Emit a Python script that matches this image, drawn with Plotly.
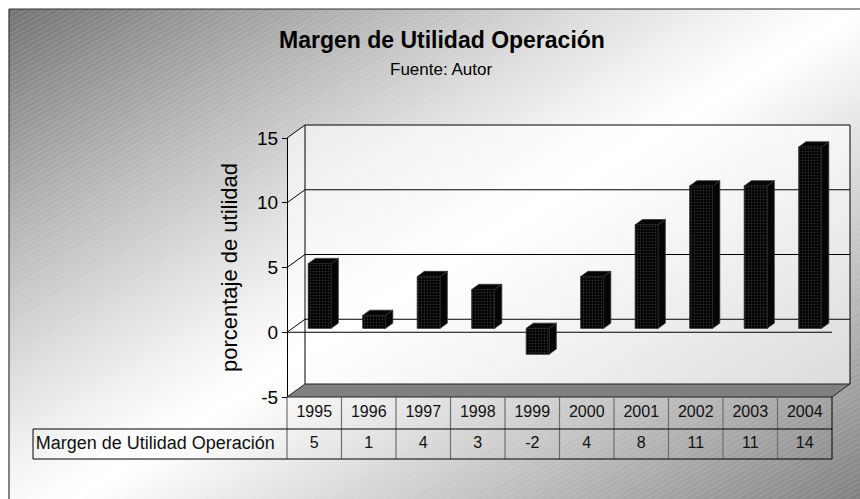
import plotly.graph_objects as go

# ---------------- data ----------------
years = ["1995", "1996", "1997", "1998", "1999", "2000", "2001", "2002", "2003", "2004"]
margin_pct = [5, 1, 4, 3, -2, 4, 8, 11, 11, 14]
series_name = "Margen de Utilidad Operación"
chart_title = "Margen de Utilidad Operación"
chart_subtitle = "Fuente: Autor"
y_title = "porcentaje de utilidad"
y_ticks = [-5, 0, 5, 10, 15]
y_min, y_max = -5, 15

# ---------------- geometry (pixel layout of the picture) ----------------
W, H = 860, 499
FONT = "Liberation Sans, Arial, sans-serif"
PX0 = 287.0    # pixel x of the front value axis (category -0.5)
PXC = 54.5     # pixels per category
PY0 = 397.0    # pixel y of value y_min on the front plane
PYU = 12.95    # pixels per value unit


def xd(px):
    return (px - PX0) / PXC - 0.5


def yd(py):
    return (PY0 - py) / PYU + y_min


XR = [xd(0), xd(W)]
YR = [yd(H), yd(0)]
DX = 18.0 / PXC    # depth offset (data units)
DY = 13.0 / PYU
N = len(years)
X_LEFT, X_RIGHT = -0.5, N - 0.5
BAR_W = 0.42
T_FRONT, T_BACK = 0.30, 0.70


def paper_x(x):
    return (x - XR[0]) / (XR[1] - XR[0])


def paper_y(y):
    return (y - YR[0]) / (YR[1] - YR[0])


fig = go.Figure()

# ---------------- background gradient (chart area) ----------------
BX0, BY0, BX1, BY1 = 9.0, 9.0, 860.0, 499.0
GW, GH = 851.0, 530.0


def clip_poly(poly, x0, y0, x1, y1):
    def clip(pts, inside, inter):
        out = []
        for k in range(len(pts)):
            cur, prev = pts[k], pts[k - 1]
            if inside(cur):
                if not inside(prev):
                    out.append(inter(prev, cur))
                out.append(cur)
            elif inside(prev):
                out.append(inter(prev, cur))
        return out

    def ix(xc):
        return lambda p, q: (xc, p[1] + (q[1] - p[1]) * (xc - p[0]) / (q[0] - p[0]))

    def iy(yc):
        return lambda p, q: (p[0] + (q[0] - p[0]) * (yc - p[1]) / (q[1] - p[1]), yc)

    pts = poly
    pts = clip(pts, lambda p: p[0] >= x0, ix(x0)) if pts else pts
    pts = clip(pts, lambda p: p[0] <= x1, ix(x1)) if pts else pts
    pts = clip(pts, lambda p: p[1] >= y0, iy(y0)) if pts else pts
    pts = clip(pts, lambda p: p[1] <= y1, iy(y1)) if pts else pts
    return pts


def gray(s):
    d = abs(1.0 - s)
    if s < 1:
        g = 255 - (255 - 115) * d ** 1.2
    else:
        g = 255 - (255 - 118) * d ** 1.1
    g = int(max(0, min(255, round(g))))
    return f"rgb({g},{g},{g})"


shapes = []
NB = 120
s_max = (BX1 - BX0) / GW + (BY1 - BY0) / GH
for k in range(NB):
    a = s_max * k / NB
    b = s_max * (k + 1) / NB + 0.002

    def pt(s, t):
        px = t
        py = BY0 + (s - (px - BX0) / GW) * GH
        return (px, py)
    big0, big1 = -2000.0, 3000.0
    poly = [pt(a, big0), pt(a, big1), pt(b, big1), pt(b, big0)]
    poly = clip_poly(poly, BX0, BY0, BX1, BY1)
    if len(poly) < 3:
        continue
    path = "M " + " L ".join(f"{px / W:.5f},{1 - py / H:.5f}" for px, py in poly) + " Z"
    shapes.append(dict(type="path", xref="paper", yref="paper", path=path,
                       fillcolor=gray((a + b) / 2), line=dict(width=0), layer="below"))

# chart-area border (top and left visible)
shapes.append(dict(type="line", xref="paper", yref="paper", x0=BX0 / W, x1=1.0,
                   y0=1 - BY0 / H, y1=1 - BY0 / H, line=dict(color="#333333", width=1.2)))
shapes.append(dict(type="line", xref="paper", yref="paper", x0=BX0 / W, x1=BX0 / W,
                   y0=0.0, y1=1 - BY0 / H, line=dict(color="#333333", width=1.2)))

# subtle diagonal stripes
K = 0.55
sx, sy = [], []
c = BY0
while c < BY1 + K * BX1:
    lo = max(BX0, (c - BY1) / K)
    hi = min(BX1, (c - BY0) / K)
    if hi > lo:
        sx += [xd(lo), xd(hi), None]
        sy += [yd(c - K * lo), yd(c - K * hi), None]
    c += 5.0
fig.add_trace(go.Scatter(x=sx, y=sy, mode="lines", line=dict(color="rgba(255,255,255,0.14)", width=1),
                         hoverinfo="skip", showlegend=False))

# ---------------- walls & floor ----------------
wall_x = [X_LEFT, X_LEFT, X_LEFT + DX, X_RIGHT + DX, X_RIGHT + DX, X_LEFT + DX, X_LEFT]
wall_y = [y_min, y_max, y_max + DY, y_max + DY, y_min + DY, y_min + DY, y_min]
fig.add_trace(go.Scatter(x=wall_x, y=wall_y, mode="lines", fill="toself",
                         fillcolor="rgba(255,255,255,0.6)", line=dict(width=0),
                         hoverinfo="skip", showlegend=False))

floor_x = [X_LEFT, X_LEFT + DX, X_RIGHT + DX, X_RIGHT, X_LEFT]
floor_y = [y_min, y_min + DY, y_min + DY, y_min, y_min]
fig.add_trace(go.Scatter(x=floor_x, y=floor_y, mode="lines", fill="toself",
                         fillcolor="#808080", line=dict(color="#222222", width=1),
                         hoverinfo="skip", showlegend=False))

# gridlines (diagonal on side wall + horizontal on back wall) and wall edges
gx, gy = [], []
for v in y_ticks[1:]:
    gx += [X_LEFT, X_LEFT + DX, X_RIGHT + DX, None]
    gy += [v, v + DY, v + DY, None]
gx += [X_LEFT + DX, X_LEFT + DX, None, X_RIGHT + DX, X_RIGHT + DX, None]
gy += [y_min + DY, y_max + DY, None, y_min + DY, y_max + DY, None]
# front zero line
gx += [X_LEFT, X_RIGHT, None]
gy += [0, 0, None]
fig.add_trace(go.Scatter(x=gx, y=gy, mode="lines", line=dict(color="#000000", width=1),
                         hoverinfo="skip", showlegend=False))

# ---------------- 3D bars ----------------
fx, fy = T_FRONT * DX, T_FRONT * DY
bx, by = T_BACK * DX, T_BACK * DY
for i, v in enumerate(margin_pct):
    lo, hi = min(0, v), max(0, v)
    xl, xr = i - BAR_W / 2, i + BAR_W / 2
    side_x = [xr + fx, xr + bx, xr + bx, xr + fx, xr + fx]
    side_y = [lo + fy, lo + by, hi + by, hi + fy, lo + fy]
    top_x = [xl + fx, xr + fx, xr + bx, xl + bx, xl + fx]
    top_y = [hi + fy, hi + fy, hi + by, hi + by, hi + fy]
    for px_, py_ in ((side_x, side_y), (top_x, top_y)):
        fig.add_trace(go.Scatter(x=px_, y=py_, mode="lines", fill="toself", fillcolor="#050505",
                                 line=dict(color="#333333", width=0.8), hoverinfo="skip",
                                 showlegend=False))
    fig.add_trace(go.Scatter(
        x=[xl + fx, xr + fx, xr + fx, xl + fx, xl + fx],
        y=[lo + fy, lo + fy, hi + fy, hi + fy, lo + fy],
        mode="lines", fill="toself", fillcolor="#000000",
        fillpattern=dict(shape=".", bgcolor="#000000", fgcolor="#2e2e2e", size=3, solidity=0.3),
        line=dict(color="#222222", width=0.8), name=series_name,
        hovertemplate=f"{years[i]}: {v}<extra></extra>", showlegend=False))

# ---------------- data table ----------------
ROW_TOP = y_min
ROW_MID = yd(429)
ROW_BOT = yd(459)
LABEL_X0 = xd(33)
tx, ty = [], []
for i in range(N + 1):
    xv = X_LEFT + i
    if 0 < i < N:
        tx += [xv, xv, None]
        ty += [ROW_TOP, ROW_BOT, None]
fig.add_trace(go.Scatter(x=tx, y=ty, mode="lines", line=dict(color="#6e6e6e", width=1.2),
                         hoverinfo="skip", showlegend=False))
fig.add_trace(go.Scatter(x=[X_LEFT, X_LEFT], y=[ROW_TOP, ROW_BOT], mode="lines",
                         line=dict(color="#6e6e6e", width=1.2), hoverinfo="skip", showlegend=False))
bxl = [LABEL_X0, X_RIGHT, None, LABEL_X0, X_RIGHT, None, LABEL_X0, LABEL_X0, None,
       X_RIGHT, X_RIGHT, None]
byl = [ROW_MID, ROW_MID, None, ROW_BOT, ROW_BOT, None, ROW_MID, ROW_BOT, None,
       ROW_TOP, ROW_BOT, None]
fig.add_trace(go.Scatter(x=bxl, y=byl, mode="lines", line=dict(color="#000000", width=1),
                         hoverinfo="skip", showlegend=False))

fig.add_trace(go.Scatter(x=list(range(N)), y=[(ROW_TOP + ROW_MID) / 2] * N, mode="text",
                         text=years, textfont=dict(family=FONT, size=16, color="#111111"),
                         textposition="middle center", hoverinfo="skip", showlegend=False))
fig.add_trace(go.Scatter(x=list(range(N)), y=[(ROW_MID + ROW_BOT) / 2] * N, mode="text",
                         text=[str(v) for v in margin_pct],
                         textfont=dict(family=FONT, size=16, color="#111111"),
                         textposition="middle center", hoverinfo="skip", showlegend=False))
fig.add_trace(go.Scatter(x=[LABEL_X0 + 0.05], y=[(ROW_MID + ROW_BOT) / 2], mode="text",
                         text=[series_name], textfont=dict(family=FONT, size=18, color="#111111"),
                         textposition="middle right", hoverinfo="skip", showlegend=False))

# invisible trace to carry the value axis
fig.add_trace(go.Scatter(x=[None], y=[None], yaxis="y2", mode="markers", showlegend=False,
                         hoverinfo="skip"))

fig.update_layout(
    width=W, height=H,
    template="none",
    margin=dict(l=0, r=0, t=0, b=0, pad=0),
    paper_bgcolor="#ffffff",
    plot_bgcolor="rgba(0,0,0,0)",
    font=dict(family=FONT, color="#000000"),
    showlegend=False,
    shapes=shapes,
    xaxis=dict(range=XR, visible=False, fixedrange=True, domain=[0, 1], automargin=False),
    yaxis=dict(range=YR, visible=False, fixedrange=True, domain=[0, 1], automargin=False),
    yaxis2=dict(range=[y_min, y_max], domain=[paper_y(y_min), paper_y(y_max)],
                anchor="free", position=paper_x(X_LEFT), side="left",
                showline=True, linecolor="#000000", linewidth=1,
                ticks="outside", ticklen=5, tickwidth=1, tickcolor="#000000",
                tickvals=y_ticks, ticktext=[str(t) for t in y_ticks],
                tickfont=dict(family=FONT, size=19, color="#000000"),
                showgrid=False, zeroline=False, fixedrange=True, automargin=False,
                title=dict(text=y_title, font=dict(family=FONT, size=22, color="#000000"),
                           standoff=12)),
    annotations=[
        dict(text=f"<b>{chart_title}</b>", xref="paper", yref="paper",
             x=442 / W, y=1 - 40 / H, xanchor="center", yanchor="middle", showarrow=False,
             font=dict(family=FONT, size=23, color="#000000")),
        dict(text=chart_subtitle, xref="paper", yref="paper",
             x=441 / W, y=1 - 69 / H, xanchor="center", yanchor="middle", showarrow=False,
             font=dict(family=FONT, size=17, color="#000000")),
    ],
)

fig.write_html("out.html", config={"displayModeBar": False},
               post_script="document.body.style.margin='0px';")
